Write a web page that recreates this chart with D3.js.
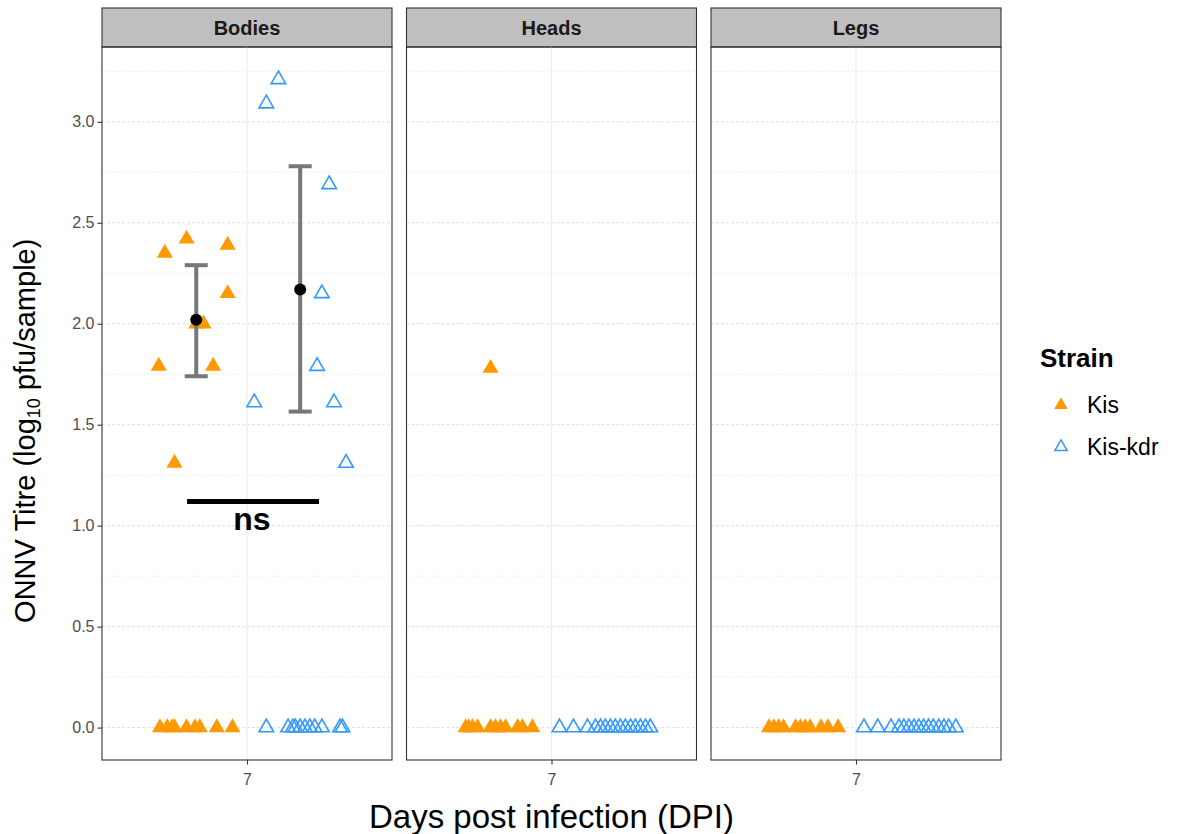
<!DOCTYPE html>
<html>
<head>
<meta charset="utf-8">
<script src="https://cdn.jsdelivr.net/npm/d3@7"></script>
<style>
  body { margin: 0; background: #fff; }
  svg { font-family: "Liberation Sans", Arial, sans-serif; }
</style>
</head>
<body>
<svg id="chart" width="1184" height="834"></svg>
<script>
// facets, strains and axis ticks
const panels = ["Bodies", "Heads", "Legs"];
const strains = ["Kis", "Kis-kdr"];
const yTicks = [0, 0.5, 1, 1.5, 2, 2.5, 3];
const yMinor = [0.25, 0.75, 1.25, 1.75, 2.25, 2.75, 3.25];
const xTicks = [7];

// points: [jitter offset from DPI 7, titre]
const bodiesKis = [
  [-0.34, 2.35], [-0.25, 2.42], [-0.08, 2.39], [-0.08, 2.15], [-0.21, 2.0], [-0.18, 2.0],
  [-0.365, 1.79], [-0.14, 1.79], [-0.30, 1.31],
  [-0.36, 0], [-0.33, 0], [-0.31, 0], [-0.30, 0], [-0.25, 0], [-0.215, 0], [-0.195, 0], [-0.125, 0], [-0.06, 0]
];
const bodiesKdr = [
  [0.13, 3.21], [0.08, 3.09], [0.34, 2.69], [0.31, 2.15], [0.29, 1.79], [0.03, 1.61], [0.36, 1.61], [0.41, 1.31],
  [0.08, 0], [0.17, 0], [0.19, 0], [0.20, 0], [0.22, 0], [0.24, 0], [0.26, 0], [0.28, 0], [0.31, 0], [0.385, 0], [0.395, 0]
];
const headsKis = [
  [-0.252, 1.78],
  [-0.355, 0], [-0.343, 0], [-0.327, 0], [-0.306, 0], [-0.252, 0], [-0.232, 0], [-0.211, 0], [-0.19, 0], [-0.14, 0], [-0.12, 0], [-0.079, 0]
];
const headsKdr = [
  [0.033, 0], [0.091, 0], [0.149, 0], [0.182, 0], [0.203, 0], [0.223, 0], [0.244, 0], [0.264, 0],
  [0.285, 0], [0.306, 0], [0.327, 0], [0.347, 0], [0.368, 0], [0.389, 0], [0.409, 0]
];
const legsKis = [
  [-0.36, 0], [-0.34, 0], [-0.32, 0], [-0.30, 0], [-0.25, 0], [-0.23, 0], [-0.21, 0], [-0.19, 0], [-0.145, 0], [-0.116, 0], [-0.074, 0]
];
const legsKdr = [
  [0.033, 0], [0.09, 0], [0.145, 0], [0.178, 0], [0.198, 0], [0.219, 0], [0.24, 0], [0.26, 0],
  [0.28, 0], [0.30, 0], [0.32, 0], [0.343, 0], [0.364, 0], [0.384, 0], [0.413, 0]
];

// mean +/- CI in Bodies
const summaryX = [-0.21, 0.22];
const summaryMean = [2.02, 2.17];
const summaryLow = [1.74, 1.565];
const summaryHigh = [2.29, 2.78];

// significance bracket
const nsFrom = -0.248, nsTo = 0.298, nsY = 1.12;

const pointsByPanel = {
  Bodies: [bodiesKis, bodiesKdr],
  Heads: [headsKis, headsKdr],
  Legs: [legsKis, legsKdr]
};

const colors = { "Kis": "#FF9900", "Kis-kdr": "#3399FF" };

const svg = d3.select("#chart");
const marginLeft = 102, marginTop = 47, stripH = 39, panelW = 290, gap = 14.5, panelH = 713;

const x = d3.scaleLinear().domain([6.4, 7.6]).range([0, panelW]);
const y = d3.scaleLinear().domain([-0.1605, 3.3705]).range([panelH, 0]);

const tri = d3.symbol().type(d3.symbolTriangle);

panels.forEach((name, i) => {
  const g = svg.append("g")
    .attr("transform", `translate(${marginLeft + i * (panelW + gap)},${marginTop})`);

  // strip
  g.append("rect")
    .attr("x", 0).attr("y", -stripH)
    .attr("width", panelW).attr("height", stripH)
    .attr("fill", "#BFBFBF").attr("stroke", "#333").attr("stroke-width", 1.1);
  g.append("text")
    .attr("x", panelW / 2).attr("y", -stripH / 2 + 7.5)
    .attr("text-anchor", "middle")
    .style("font-size", "20px").attr("font-weight", "bold").attr("fill", "#1a1a1a")
    .text(name);

  // grid
  g.selectAll(".minor").data(yMinor).enter().append("line")
    .attr("x1", 0).attr("x2", panelW)
    .attr("y1", d => y(d)).attr("y2", d => y(d))
    .attr("stroke", "#EDEDED").attr("stroke-width", 0.8).attr("stroke-dasharray", "3,2");
  g.selectAll(".major").data(yTicks).enter().append("line")
    .attr("x1", 0).attr("x2", panelW)
    .attr("y1", d => y(d)).attr("y2", d => y(d))
    .attr("stroke", "#DCDCDC").attr("stroke-width", 0.9).attr("stroke-dasharray", "3,2");
  g.selectAll(".vgrid").data(xTicks).enter().append("line")
    .attr("x1", d => x(d)).attr("x2", d => x(d))
    .attr("y1", 0).attr("y2", panelH)
    .attr("stroke", "#EBEBEB").attr("stroke-width", 1.1);

  // points
  pointsByPanel[name].forEach((pts, si) => {
    const s = strains[si];
    g.selectAll(".pt" + si).data(pts).enter().append("path")
      .attr("d", si === 0 ? tri.size(112)() : tri.size(92)())
      .attr("transform", d => `translate(${x(7 + d[0])},${y(d[1])})`)
      .attr("fill", si === 0 ? colors[s] : "none")
      .attr("stroke", si === 0 ? "none" : colors[s])
      .attr("stroke-width", 1.6);
  });

  if (name === "Bodies") {
    summaryX.forEach((sx, k) => {
      const cx = x(7 + sx);
      g.append("line")
        .attr("x1", cx).attr("x2", cx)
        .attr("y1", y(summaryLow[k])).attr("y2", y(summaryHigh[k]))
        .attr("stroke", "#777").attr("stroke-width", 4);
      [summaryLow[k], summaryHigh[k]].forEach(v => {
        g.append("line")
          .attr("x1", cx - 11.5).attr("x2", cx + 11.5)
          .attr("y1", y(v)).attr("y2", y(v))
          .attr("stroke", "#777").attr("stroke-width", 4);
      });
      g.append("circle")
        .attr("cx", cx).attr("cy", y(summaryMean[k]))
        .attr("r", 6).attr("fill", "#000");
    });

    g.append("line")
      .attr("x1", x(7 + nsFrom)).attr("x2", x(7 + nsTo))
      .attr("y1", y(nsY)).attr("y2", y(nsY))
      .attr("stroke", "#000").attr("stroke-width", 5);
    g.append("text")
      .attr("x", x(7 + 0.02)).attr("y", y(nsY) + 29)
      .attr("text-anchor", "middle")
      .style("font-size", "32px").attr("font-weight", "bold")
      .text("ns");
  }

  // border
  g.append("rect")
    .attr("width", panelW).attr("height", panelH)
    .attr("fill", "none").attr("stroke", "#333").attr("stroke-width", 1.1);

  // x axis
  const xa = g.append("g")
    .attr("transform", `translate(0,${panelH})`)
    .call(d3.axisBottom(x).tickValues(xTicks).tickSize(4.5).tickPadding(9).tickFormat(d3.format("d")));
  xa.select(".domain").remove();
  xa.selectAll("line").attr("stroke", "#333").attr("stroke-width", 1.1);
  xa.selectAll("text").style("font-size", "16px").attr("fill", "#4D4D4D");

  if (i === 0) {
    const ya = g.append("g")
      .call(d3.axisLeft(y).tickValues(yTicks).tickSize(4.5).tickPadding(3).tickFormat(d3.format(".1f")));
    ya.select(".domain").remove();
    ya.selectAll("line").attr("stroke", "#333").attr("stroke-width", 1.1);
    ya.selectAll("text").style("font-size", "16px").attr("fill", "#4D4D4D");
  }
});

// axis titles
const yTitle = svg.append("text")
  .attr("transform", `translate(35,${marginTop + y(1.47)}) rotate(-90)`)
  .attr("text-anchor", "middle")
  .style("font-size", "29px");
yTitle.append("tspan").text("ONNV Titre (log");
yTitle.append("tspan").style("font-size", "18px").attr("dy", 5).text("10");
yTitle.append("tspan").attr("dy", -5).text(" pfu/sample)");

svg.append("text")
  .attr("x", marginLeft + (3 * panelW + 2 * gap) / 2).attr("y", 828)
  .attr("text-anchor", "middle")
  .style("font-size", "33px")
  .text("Days post infection (DPI)");

// legend
const leg = svg.append("g").attr("transform", "translate(1040,0)");
leg.append("text")
  .attr("x", 0).attr("y", 367)
  .style("font-size", "26px").attr("font-weight", "bold")
  .text("Strain");
strains.forEach((s, k) => {
  const ly = 405 + k * 42;
  leg.append("path")
    .attr("d", k === 0 ? tri.size(80)() : tri.size(65)())
    .attr("transform", `translate(21,${ly})`)
    .attr("fill", k === 0 ? colors[s] : "none")
    .attr("stroke", k === 0 ? "none" : colors[s])
    .attr("stroke-width", 1.5);
  leg.append("text")
    .attr("x", 47).attr("y", ly + 8)
    .style("font-size", "23px")
    .text(s);
});
</script>
</body>
</html>
